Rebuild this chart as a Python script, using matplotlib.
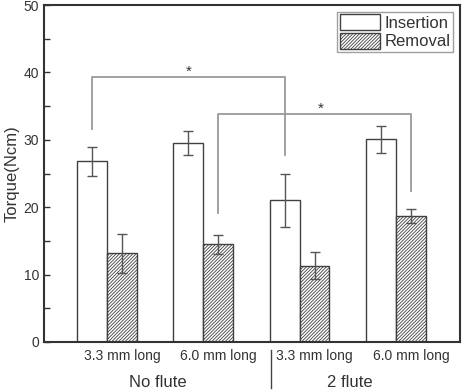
import matplotlib
matplotlib.use("Agg")
import matplotlib.pyplot as plt
import numpy as np

plt.rcParams['font.family'] = ['Liberation Sans', 'DejaVu Sans']
plt.rcParams['hatch.color'] = '#606060'
plt.rcParams['hatch.linewidth'] = 0.6

tick_labels = ["3.3 mm long", "6.0 mm long", "3.3 mm long", "6.0 mm long"]
group_labels = ["No flute", "2 flute"]
insertion = [26.8, 29.5, 21.0, 30.1]
insertion_err = [2.2, 1.8, 4.0, 2.0]
removal = [13.2, 14.5, 11.3, 18.7]
removal_err = [2.9, 1.4, 2.0, 1.1]

fig = plt.figure(figsize=(4.63, 3.92), dpi=100)
ax = fig.add_axes([0.095, 0.1276, 0.8985, 0.8594])

x = np.arange(1, 5)
w = 0.31
edge = '#404040'
ax.bar(x - w/2, insertion, w, color='white', edgecolor=edge, linewidth=1.0,
       label='Insertion', zorder=2)
ax.bar(x + w/2, removal, w, color='white', edgecolor=edge, linewidth=1.0,
       hatch='//////////', label='Removal', zorder=2)
ax.errorbar(x - w/2, insertion, yerr=insertion_err, fmt='none', ecolor='#555555',
            elinewidth=1.0, capsize=3.5, capthick=1.0, zorder=3)
ax.errorbar(x + w/2, removal, yerr=removal_err, fmt='none', ecolor='#555555',
            elinewidth=1.0, capsize=3.5, capthick=1.0, zorder=3)

ax.set_xlim(0.346, 4.665)
ax.set_ylim(0, 50)
ax.set_yticks([0, 10, 20, 30, 40, 50])
ax.set_yticks([5, 15, 25, 35, 45], minor=True)
ax.tick_params(axis='y', which='both', direction='in', length=4, width=1.0,
               color='#333333', labelsize=10, labelcolor='#333333')
ax.set_xticks(x + w/2)
ax.set_xticklabels(tick_labels, fontsize=10, color='#333333')
ax.tick_params(axis='x', length=0, pad=5)
for s in ax.spines.values():
    s.set_color('#333333')
    s.set_linewidth(1.5)
ax.set_ylabel('Torque(Ncm)', fontsize=12, color='#333333', labelpad=3)

# group labels and separator
trans = ax.get_xaxis_transform()
ax.text(1.53, -0.119, group_labels[0], transform=trans, ha='center', va='center',
        fontsize=12, color='#333333')
ax.text(3.52, -0.119, group_labels[1], transform=trans, ha='center', va='center',
        fontsize=12, color='#333333')
ax.plot([2.70, 2.70], [-0.024, -0.136], transform=trans, color='#444444',
        lw=1.0, clip_on=False)

# significance brackets
gray = '#9a9a9a'
ax.plot([1 - w/2, 1 - w/2, 3 - w/2, 3 - w/2], [31.6, 39.3, 39.3, 27.7],
        color=gray, lw=1.3, zorder=1)
ax.text(1.85, 40.1, '*', ha='center', va='center', fontsize=11, color='#333333')
ax.plot([2 + w/2, 2 + w/2, 4 + w/2, 4 + w/2], [19.1, 33.8, 33.8, 22.4],
        color=gray, lw=1.3, zorder=1)
ax.text(3.22, 34.6, '*', ha='center', va='center', fontsize=11, color='#333333')

leg = ax.legend(loc='upper right', fontsize=12, frameon=True, fancybox=False,
                handlelength=2.4, handleheight=1.1, handletextpad=0.3,
                borderpad=0.15, labelspacing=0.1, borderaxespad=0.4)
leg.get_frame().set_edgecolor('#888888')
leg.get_frame().set_linewidth(1.0)
for t in leg.get_texts():
    t.set_color('#333333')

fig.savefig('out.png', dpi=100)
